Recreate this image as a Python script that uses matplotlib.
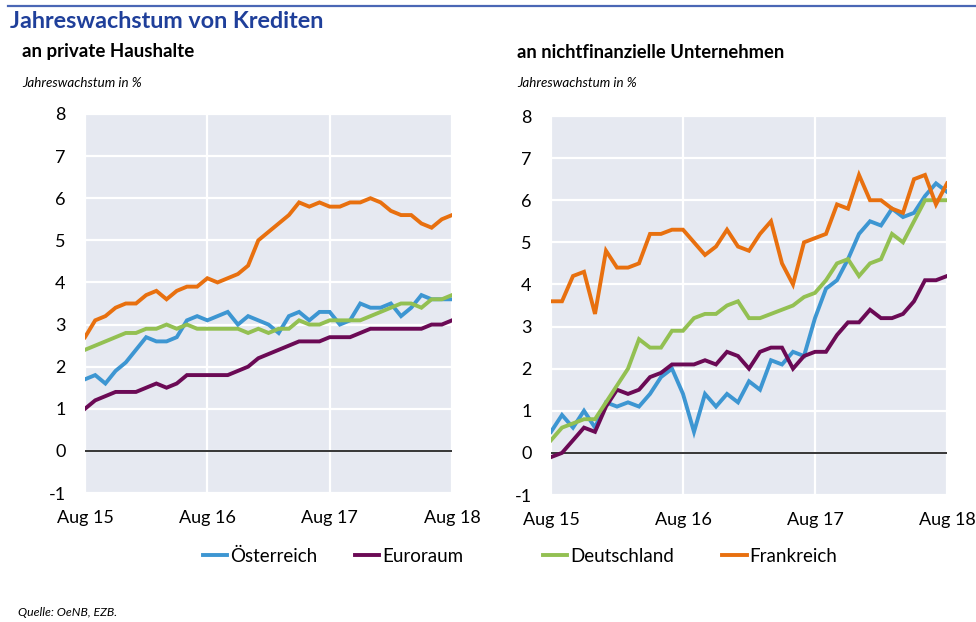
import matplotlib.pyplot as plt
from matplotlib.lines import Line2D

# data: monthly, Aug 15 .. Aug 18 (37 points)
tick_pos = [0, 12, 24, 36]
tick_labels = ["Aug 15", "Aug 16", "Aug 17", "Aug 18"]

# loans to households
hh_at = [1.7, 1.8, 1.6, 1.9, 2.1, 2.4, 2.7, 2.6, 2.6, 2.7, 3.1, 3.2, 3.1, 3.2, 3.3, 3.0,
         3.2, 3.1, 3.0, 2.8, 3.2, 3.3, 3.1, 3.3, 3.3, 3.0, 3.1, 3.5, 3.4, 3.4, 3.5, 3.2,
         3.4, 3.7, 3.6, 3.6, 3.6]
hh_ea = [1.0, 1.2, 1.3, 1.4, 1.4, 1.4, 1.5, 1.6, 1.5, 1.6, 1.8, 1.8, 1.8, 1.8, 1.8, 1.9,
         2.0, 2.2, 2.3, 2.4, 2.5, 2.6, 2.6, 2.6, 2.7, 2.7, 2.7, 2.8, 2.9, 2.9, 2.9, 2.9,
         2.9, 2.9, 3.0, 3.0, 3.1]
hh_de = [2.4, 2.5, 2.6, 2.7, 2.8, 2.8, 2.9, 2.9, 3.0, 2.9, 3.0, 2.9, 2.9, 2.9, 2.9, 2.9,
         2.8, 2.9, 2.8, 2.9, 2.9, 3.1, 3.0, 3.0, 3.1, 3.1, 3.1, 3.1, 3.2, 3.3, 3.4, 3.5,
         3.5, 3.4, 3.6, 3.6, 3.7]
hh_fr = [2.7, 3.1, 3.2, 3.4, 3.5, 3.5, 3.7, 3.8, 3.6, 3.8, 3.9, 3.9, 4.1, 4.0, 4.1, 4.2,
         4.4, 5.0, 5.2, 5.4, 5.6, 5.9, 5.8, 5.9, 5.8, 5.8, 5.9, 5.9, 6.0, 5.9, 5.7, 5.6,
         5.6, 5.4, 5.3, 5.5, 5.6]

# loans to non-financial corporations
nfc_at = [0.5, 0.9, 0.6, 1.0, 0.6, 1.2, 1.1, 1.2, 1.1, 1.4, 1.8, 2.0, 1.4, 0.5, 1.4, 1.1,
          1.4, 1.2, 1.7, 1.5, 2.2, 2.1, 2.4, 2.3, 3.2, 3.9, 4.1, 4.6, 5.2, 5.5, 5.4, 5.8,
          5.6, 5.7, 6.1, 6.4, 6.2]
nfc_ea = [-0.1, 0.0, 0.3, 0.6, 0.5, 1.1, 1.5, 1.4, 1.5, 1.8, 1.9, 2.1, 2.1, 2.1, 2.2, 2.1,
          2.4, 2.3, 2.0, 2.4, 2.5, 2.5, 2.0, 2.3, 2.4, 2.4, 2.8, 3.1, 3.1, 3.4, 3.2, 3.2,
          3.3, 3.6, 4.1, 4.1, 4.2]
nfc_de = [0.3, 0.6, 0.7, 0.8, 0.8, 1.2, 1.6, 2.0, 2.7, 2.5, 2.5, 2.9, 2.9, 3.2, 3.3, 3.3,
          3.5, 3.6, 3.2, 3.2, 3.3, 3.4, 3.5, 3.7, 3.8, 4.1, 4.5, 4.6, 4.2, 4.5, 4.6, 5.2,
          5.0, 5.5, 6.0, 6.0, 6.0]
nfc_fr = [3.6, 3.6, 4.2, 4.3, 3.3, 4.8, 4.4, 4.4, 4.5, 5.2, 5.2, 5.3, 5.3, 5.0, 4.7, 4.9,
          5.3, 4.9, 4.8, 5.2, 5.5, 4.5, 4.0, 5.0, 5.1, 5.2, 5.9, 5.8, 6.6, 6.0, 6.0, 5.8,
          5.7, 6.5, 6.6, 5.9, 6.4]

names = ["Österreich", "Euroraum", "Deutschland", "Frankreich"]
colors = ["#3d96d2", "#6b0a55", "#93c052", "#e8700f"]

plt.rcParams["font.family"] = ["Lato", "DejaVu Sans"]
plt.rcParams["axes.unicode_minus"] = False

fig = plt.figure(figsize=(9.76, 6.22), dpi=100)

# top rule and titles
fig.add_artist(Line2D([8 / 976, 1], [1 - 6 / 622] * 2, color="#4a67b5", lw=1.6))
fig.text(10 / 976, 1 - 22 / 622, "Jahreswachstum von Krediten", fontsize=16.8,
         fontweight="bold", color="#1f3f9a", va="center")
fig.text(22 / 976, 1 - 52 / 622, "an private Haushalte", fontsize=13.5,
         fontweight="bold", va="center")
fig.text(517 / 976, 1 - 52 / 622, "an nichtfinanzielle Unternehmen", fontsize=13.2,
         fontweight="bold", va="center")
fig.text(22 / 976, 1 - 83 / 622, "Jahreswachstum in %", fontsize=9.6,
         style="italic", va="center")
fig.text(517 / 976, 1 - 83 / 622, "Jahreswachstum in %", fontsize=9.6,
         style="italic", va="center")
fig.text(18 / 976, 1 - 612 / 622, "Quelle: OeNB, EZB.", fontsize=8.8,
         style="italic", va="center")

ax1 = fig.add_axes([85 / 976, 1 - 493 / 622, 367 / 976, 379 / 622])
ax2 = fig.add_axes([551 / 976, 1 - 495 / 622, 396 / 976, 379 / 622])

panels = [(ax1, [hh_at, hh_ea, hh_de, hh_fr]), (ax2, [nfc_at, nfc_ea, nfc_de, nfc_fr])]
handles = []
for ax, series in panels:
    ax.set_facecolor("#e6e9f1")
    for s in ax.spines.values():
        s.set_visible(False)
    ax.grid(True, color="white", lw=1.6)
    ax.set_axisbelow(True)
    ax.axhline(0, color="black", lw=1.1, zorder=2)
    handles = []
    for vals, name, c in zip(series, names, colors):
        h, = ax.plot(range(len(vals)), vals, color=c, lw=2.8, label=name,
                     solid_joinstyle="miter", zorder=3)
        handles.append(h)
    ax.set_xlim(0, 36)
    ax.set_ylim(-1, 8)
    ax.set_yticks(range(-1, 9))
    ax.set_xticks(tick_pos)
    ax.set_xticklabels(tick_labels)
    ax.tick_params(length=0, labelsize=13)
    ax.tick_params(axis="y", pad=14)
    ax.tick_params(axis="x", pad=12)

leg_kw = dict(loc="center", ncol=2, frameon=False, fontsize=13.5, handlelength=1.3,
              handletextpad=0.15)
fig.legend(handles[:2], names[:2], bbox_to_anchor=(333 / 976, 1 - 556 / 622),
           columnspacing=2.0, **leg_kw)
fig.legend(handles[2:], names[2:], bbox_to_anchor=(690 / 976, 1 - 556 / 622),
           columnspacing=2.6, **leg_kw)

fig.savefig("out.png", dpi=100)
